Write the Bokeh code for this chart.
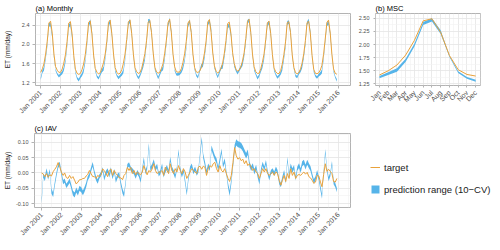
import math
import pandas as pd
from bokeh.plotting import figure
from bokeh.models import (Range1d, FixedTicker, DatetimeTickFormatter,
                          NumeralTickFormatter, Legend, LegendItem)
from bokeh.layouts import column, row
from bokeh.embed import file_html
from bokeh.resources import INLINE

FONT = "Liberation Sans"
ORANGE = "#E9A23B"
BLUE = "#56B4E9"

# ---------------- data ----------------
months = ["Jan", "Feb", "Mar", "Apr", "May", "Jun",
          "Jul", "Aug", "Sep", "Oct", "Nov", "Dec"]
month_num = [1, 2, 3, 4, 5, 6, 7, 8, 9, 10, 11, 12]
years = list(range(2001, 2016))

# (b) mean seasonal cycle
msc_target = [1.42, 1.50, 1.61, 1.80, 2.08, 2.45, 2.49, 2.23, 1.79, 1.52, 1.43, 1.40]
msc_pred_lo = [1.36, 1.42, 1.48, 1.67, 1.96, 2.37, 2.44, 2.20, 1.76, 1.46, 1.35, 1.29]
msc_pred_hi = [1.40, 1.47, 1.55, 1.73, 2.02, 2.43, 2.50, 2.27, 1.79, 1.49, 1.38, 1.33]

# (c) interannual variability (monthly anomalies), Jan 2001 .. Dec 2015
iav_target = [
    0.000, -0.004, -0.012, -0.002, -0.014, -0.006, -0.010, 0.004, 0.012, 0.020, 0.034, 0.020,
    0.002, -0.008, 0.000, -0.015, -0.018, -0.008, -0.018, -0.012, -0.024, -0.036, -0.030, -0.022,
    -0.022, -0.018, -0.018, -0.010, -0.005, 0.008, -0.002, -0.012, -0.012, -0.018, -0.008, -0.012,
    -0.006, 0.013, 0.008, -0.002, -0.012, 0.008, 0.013, -0.008, 0.008, -0.002, -0.008, -0.016,
    -0.016, -0.022, -0.008, -0.002, 0.018, 0.008, 0.018, -0.002, 0.008, -0.006, 0.003, -0.002,
    -0.006, 0.003, 0.024, 0.008, -0.006, 0.008, 0.003, 0.013, 0.030, 0.008, -0.002, 0.003,
    0.003, 0.008, -0.008, 0.019, 0.008, -0.002, 0.030, 0.008, -0.002, 0.014, 0.003, 0.024,
    0.008, -0.002, 0.014, 0.003, -0.018, -0.008, 0.003, 0.014, 0.008, 0.003, -0.002, 0.019,
    0.022, 0.012, 0.022, 0.019, -0.008, 0.014, 0.024, 0.019, 0.030, 0.035, 0.014, 0.003,
    0.024, 0.008, 0.003, 0.014, -0.002, -0.018, -0.028, -0.008, 0.035, 0.083, 0.056, 0.045,
    0.050, 0.040, 0.045, 0.030, 0.040, 0.024, 0.030, 0.019, 0.008, 0.014, 0.003, -0.002,
    -0.018, -0.002, 0.014, 0.003, 0.014, -0.002, -0.008, -0.002, 0.003, -0.008, 0.003, -0.002,
    -0.024, -0.040, -0.024, -0.008, -0.028, -0.002, -0.018, 0.014, -0.008, 0.003, -0.018, -0.008,
    -0.005, -0.008, -0.002, 0.003, -0.004, 0.002, -0.012, -0.016, -0.024, -0.034, -0.030, -0.008,
    -0.010, -0.030, -0.045, -0.005, 0.030, 0.005, 0.012, 0.005, -0.002, -0.028, -0.030, -0.018,
]
iav_pred_lo = [
    -0.100, -0.015, -0.027, 0.001, -0.022, -0.001, -0.068, -0.079, -0.042, -0.012, 0.015, 0.024,
    -0.009, -0.037, -0.032, -0.049, -0.042, -0.033, -0.052, -0.074, -0.080, -0.064, -0.074, -0.058,
    -0.063, -0.073, -0.063, -0.048, -0.025, -0.015, 0.005, 0.020, -0.005, -0.025, -0.035, -0.019,
    -0.011, 0.005, -0.025, -0.007, 0.001, -0.015, 0.005, -0.021, -0.001, -0.032, -0.017, -0.012,
    -0.042, -0.068, -0.079, -0.037, 0.015, 0.021, 0.007, 0.001, -0.005, -0.019, -0.004, -0.013,
    -0.032, 0.005, 0.036, -0.004, 0.011, 0.078, 0.006, 0.015, 0.031, 0.006, 0.016, -0.012,
    -0.004, 0.017, -0.015, 0.001, 0.012, -0.004, 0.037, 0.007, -0.004, -0.019, 0.007, 0.062,
    0.005, -0.015, 0.001, -0.035, -0.074, -0.025, 0.007, 0.017, -0.004, 0.007, -0.009, 0.001,
    0.052, 0.100, 0.047, 0.022, -0.004, 0.017, 0.006, 0.074, 0.057, 0.042, 0.032, 0.007,
    0.032, 0.064, 0.017, 0.032, -0.004, -0.048, -0.075, -0.036, 0.016, 0.072, 0.090, 0.084,
    0.082, 0.078, 0.071, 0.059, 0.047, 0.059, 0.022, 0.006, 0.016, -0.005, 0.011, -0.016,
    -0.038, 0.001, 0.023, 0.007, 0.028, -0.004, -0.025, -0.004, 0.001, -0.009, 0.007, -0.004,
    -0.037, -0.047, -0.025, -0.004, -0.035, 0.037, -0.015, 0.017, 0.001, 0.012, -0.025, 0.007,
    0.016, 0.001, 0.022, 0.027, 0.011, 0.027, 0.016, 0.006, -0.015, -0.035, -0.025, -0.004,
    -0.025, -0.058, -0.084, -0.004, 0.062, 0.005, -0.027, -0.012, 0.025, -0.037, -0.047, -0.063,
]
iav_pred_hi = [
    -0.082, -0.001, -0.012, 0.015, -0.008, 0.013, -0.052, -0.064, -0.028, 0.002, 0.029, 0.037,
    0.005, -0.023, -0.018, -0.035, -0.028, -0.018, -0.038, -0.058, -0.064, -0.048, -0.058, -0.042,
    -0.047, -0.057, -0.047, -0.032, -0.011, -0.001, 0.019, 0.036, 0.009, -0.011, -0.021, -0.005,
    0.003, 0.019, -0.011, 0.007, 0.015, -0.001, 0.019, -0.007, 0.013, -0.018, -0.003, 0.002,
    -0.028, -0.052, -0.065, -0.023, 0.029, 0.035, 0.021, 0.015, 0.009, -0.005, 0.010, 0.001,
    -0.018, 0.019, 0.052, 0.010, 0.025, 0.098, 0.020, 0.029, 0.045, 0.020, 0.030, 0.002,
    0.010, 0.031, -0.001, 0.015, 0.026, 0.010, 0.053, 0.021, 0.010, -0.005, 0.021, 0.078,
    0.019, -0.001, 0.015, -0.021, -0.058, -0.011, 0.021, 0.031, 0.010, 0.021, 0.005, 0.015,
    0.068, 0.118, 0.063, 0.038, 0.010, 0.031, 0.020, 0.090, 0.073, 0.058, 0.048, 0.021,
    0.048, 0.080, 0.031, 0.048, 0.010, -0.032, -0.057, -0.020, 0.032, 0.092, 0.110, 0.104,
    0.102, 0.098, 0.089, 0.077, 0.065, 0.077, 0.038, 0.022, 0.032, 0.011, 0.027, 0.000,
    -0.022, 0.015, 0.037, 0.021, 0.042, 0.010, -0.011, 0.010, 0.015, 0.005, 0.021, 0.010,
    -0.023, -0.033, -0.011, 0.010, -0.021, 0.053, -0.001, 0.031, 0.015, 0.026, -0.011, 0.021,
    0.032, 0.015, 0.038, 0.043, 0.027, 0.043, 0.032, 0.022, -0.001, -0.021, -0.011, 0.010,
    -0.011, -0.042, -0.068, 0.010, 0.078, 0.019, -0.013, 0.002, 0.039, -0.023, -0.033, -0.049,
]

# tick positions / labels
year_ticks = list(range(2001, 2017))
a_yticks = [1.2, 1.6, 2.0, 2.4]
a_yminor = [1.4, 1.8, 2.2, 2.6]
b_yticks = [1.25, 1.50, 1.75, 2.00, 2.25, 2.50]
b_yminor = [1.375, 1.625, 1.875, 2.125, 2.375]
c_yticks = [-0.10, -0.05, 0.0, 0.05, 0.10]
c_yminor = [-0.075, -0.025, 0.025, 0.075, 0.125]
legend_labels = ["target", "prediction range (10\u2212CV)"]

# ---------------- derived series ----------------
dates = pd.date_range(f"{years[0]}-01-01", periods=len(years) * 12, freq="MS")
# monthly series = mean seasonal cycle + anomaly
mon_target = [msc_target[i % 12] + iav_target[i] for i in range(len(dates))]
mon_lo = [msc_pred_lo[i % 12] + iav_pred_lo[i] for i in range(len(dates))]
mon_hi = [msc_pred_hi[i % 12] + iav_pred_hi[i] for i in range(len(dates))]


def ms(ts):
    return pd.Timestamp(ts).value // 10**6


xt_major = [ms(f"{y}-01-01") for y in year_ticks]
xt_minor = [ms(f"{y}-07-01") for y in range(2000, 2017)]
fmt = "%b %Y"
dt_fmt = DatetimeTickFormatter(years=fmt, months=fmt, days=fmt, hours=fmt,
                               hourmin=fmt, minutes=fmt, minsec=fmt,
                               seconds=fmt, milliseconds=fmt, microseconds=fmt)


def style(p, title):
    p.background_fill_color = "white"
    p.border_fill_color = "white"
    p.outline_line_color = "#B3B3B3"
    p.outline_line_width = 1
    p.title.text = title
    p.title.text_font = FONT
    p.title.text_font_size = "7.5px"
    p.title.text_font_style = "normal"
    p.title.text_color = "black"
    p.title.align = "left"
    p.title.offset = 0
    p.title.standoff = 2
    for ax in p.axis:
        ax.axis_line_color = None
        ax.major_tick_line_color = "#B3B3B3"
        ax.major_tick_out = 3
        ax.major_tick_in = 0
        ax.minor_tick_line_color = None
        ax.major_label_text_font = FONT
        ax.major_label_text_color = "#4D4D4D"
        ax.major_label_standoff = 2
        ax.axis_label_text_font = FONT
        ax.axis_label_text_font_style = "normal"
        ax.axis_label_text_font_size = "6.5px"
        ax.axis_label_text_color = "#1A1A1A"
    p.xaxis.major_label_text_font_size = "7px"
    p.yaxis.major_label_text_font_size = "5.5px"
    p.xaxis.major_label_orientation = math.pi / 4
    p.grid.grid_line_color = "#E4E4E4"
    p.grid.grid_line_width = 0.8
    p.grid.minor_grid_line_color = "#F1F1F1"
    p.grid.minor_grid_line_width = 0.6


# ---------------- (a) Monthly ----------------
pa = figure(width=355, height=120, output_backend="svg", toolbar_location=None,
            x_axis_type="datetime",
            x_range=Range1d(pd.Timestamp("2000-09-27"), pd.Timestamp("2016-08-08")),
            y_range=Range1d(1.148, 2.64),
            min_border_left=30, min_border_right=5, min_border_top=12,
            min_border_bottom=35, title="(a) Monthly")
pa.varea(x=dates, y1=mon_lo, y2=mon_hi, fill_color=BLUE, fill_alpha=1.0)
pa.line(x=dates, y=mon_target, line_color=ORANGE, line_width=1)
pa.xaxis.ticker = FixedTicker(ticks=xt_major, minor_ticks=xt_minor)
pa.xaxis.formatter = dt_fmt
pa.yaxis.ticker = FixedTicker(ticks=a_yticks, minor_ticks=a_yminor)
pa.yaxis.formatter = NumeralTickFormatter(format="0.0")
pa.yaxis.axis_label = "ET (mm/day)"
style(pa, "(a) Monthly")
pa.yaxis.axis_label_standoff = 8

# ---------------- (b) MSC ----------------
pb = figure(width=137, height=120, output_backend="svg", toolbar_location=None,
            x_range=Range1d(0.55, 12.55), y_range=Range1d(1.22, 2.59),
            min_border_left=16, min_border_right=12, min_border_top=12,
            min_border_bottom=35, title="(b) MSC")
pb.varea(x=month_num, y1=msc_pred_lo, y2=msc_pred_hi, fill_color=BLUE, fill_alpha=1.0)
pb.line(x=month_num, y=msc_target, line_color=ORANGE, line_width=1)
pb.xaxis.ticker = FixedTicker(ticks=month_num,
                              minor_ticks=[m + 0.5 for m in [0] + month_num])
pb.xaxis.major_label_overrides = {m: name for m, name in zip(month_num, months)}
pb.yaxis.ticker = FixedTicker(ticks=b_yticks, minor_ticks=b_yminor)
pb.yaxis.formatter = NumeralTickFormatter(format="0.00")
style(pb, "(b) MSC")
for ax in pb.axis:
    ax.major_tick_out = 2

# ---------------- (c) IAV ----------------
pc = figure(width=355, height=121, output_backend="svg", toolbar_location=None,
            x_axis_type="datetime",
            x_range=Range1d(pd.Timestamp("2000-08-22"), pd.Timestamp("2016-08-08")),
            y_range=Range1d(-0.113, 0.129),
            min_border_left=28, min_border_right=5, min_border_top=12,
            min_border_bottom=34, title="(c) IAV")
pc.varea(x=dates, y1=iav_pred_lo, y2=iav_pred_hi, fill_color=BLUE, fill_alpha=1.0)
pc.line(x=dates, y=iav_target, line_color=ORANGE, line_width=1)
pc.xaxis.ticker = FixedTicker(ticks=xt_major, minor_ticks=xt_minor)
pc.xaxis.formatter = dt_fmt
pc.yaxis.ticker = FixedTicker(ticks=c_yticks, minor_ticks=c_yminor)
pc.yaxis.formatter = NumeralTickFormatter(format="0.00")
pc.yaxis.axis_label = "ET (mm/day)"
style(pc, "(c) IAV")
pc.yaxis.axis_label_standoff = 2

# ---------------- legend panel ----------------
# the legend keys come from the same IAV series; the panel's ranges keep them out of view
pl = figure(width=137, height=121, output_backend="svg", toolbar_location=None,
            x_range=Range1d(0, 1), y_range=Range1d(0, 1),
            x_axis_location=None, y_axis_location=None,
            min_border_left=0, min_border_right=0, min_border_top=0,
            min_border_bottom=0)
pl.outline_line_color = None
pl.grid.visible = False
pl.background_fill_color = "white"
pl.border_fill_color = "white"
key_band = pl.varea(x=dates, y1=iav_pred_lo, y2=iav_pred_hi, fill_color=BLUE, fill_alpha=1.0)
key_line = pl.line(x=dates, y=iav_target, line_color=ORANGE, line_width=1)

legend = Legend(items=[LegendItem(label=legend_labels[0], renderers=[key_line]),
                       LegendItem(label=legend_labels[1], renderers=[key_band])],
                location=(15, 12))
legend.background_fill_alpha = 0
legend.border_line_color = None
legend.padding = 0
legend.margin = 0
legend.spacing = 10
legend.glyph_width = 10
legend.glyph_height = 10
legend.label_standoff = 4
legend.label_height = 12
legend.label_text_font = FONT
legend.label_text_font_size = "9.5px"
legend.label_text_color = "#1A1A1A"
legend.label_text_baseline = "middle"
pl.add_layout(legend)

layout = column(row(pa, pb), row(pc, pl))
open("out.html", "w").write(file_html(layout, INLINE))
